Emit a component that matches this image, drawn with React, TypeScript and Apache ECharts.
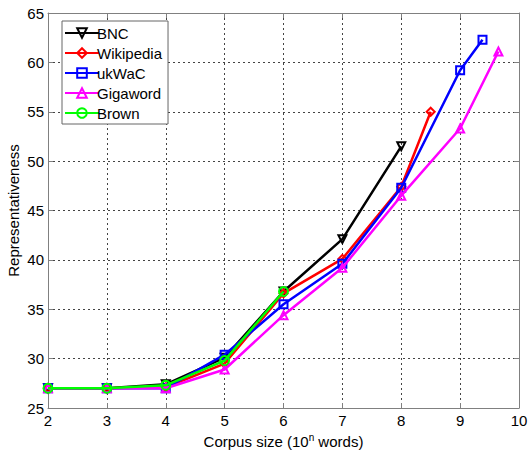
import React, { useEffect, useRef } from "react";
import * as echarts from "echarts";

const seriesNames = ["BNC", "Wikipedia", "ukWaC", "Gigaword", "Brown"];
const colors = ["#000000", "#ff0000", "#0000ff", "#ff00ff", "#00ff00"];
const symbols = ["triangle", "diamond", "rect", "triangle", "circle"];
const rotations = [180, 0, 0, 0, 0];

const bncX = [2, 3, 4, 5, 6, 7, 8];
const bncY = [27.0, 27.0, 27.4, 30.1, 36.8, 42.1, 51.5];
const wikiX = [2, 3, 4, 5, 6, 7, 8, 8.5];
const wikiY = [27.0, 27.0, 27.1, 29.5, 36.6, 40.1, 47.4, 55.0];
const ukwacX = [2, 3, 4, 5, 6, 7, 8, 9, 9.38];
const ukwacY = [27.0, 27.0, 27.0, 30.4, 35.5, 39.6, 47.3, 59.2, 62.3];
const gigaX = [2, 3, 4, 5, 6, 7, 8, 9, 9.65];
const gigaY = [27.0, 27.0, 27.0, 28.9, 34.4, 39.2, 46.5, 53.3, 61.1];
const brownX = [2, 3, 4, 5, 6];
const brownY = [27.0, 27.0, 27.3, 29.8, 36.8];

const xTicks = { min: 2, max: 10, interval: 1 };
const yTicks = { min: 25, max: 65, interval: 5 };

const allX = [bncX, wikiX, ukwacX, gigaX, brownX];
const allY = [bncY, wikiY, ukwacY, gigaY, brownY];

export default function App() {
  const ref = useRef<HTMLDivElement>(null);
  useEffect(() => {
    if (!ref.current) return;
    const chart = echarts.init(ref.current, undefined, { renderer: "svg" });
    const font = "'Liberation Sans', Arial, sans-serif";
    const frameColor = "#808080";
    const series = seriesNames.map((name, i) => ({
      name,
      type: "line",
      data: allX[i].map((x, j) => [x, allY[i][j]]),
      symbol: symbols[i],
      symbolRotate: rotations[i],
      symbolSize: i === 4 ? 9 : 8,
      showAllSymbol: true,
      color: colors[i],
      lineStyle: { width: 2.5, color: colors[i] },
      itemStyle: { color: "rgba(0,0,0,0)", borderColor: colors[i], borderWidth: 2 },
      z: 2 + i,
    }));
    chart.setOption({
      animation: false,
      backgroundColor: "#ffffff",
      textStyle: { fontFamily: font },
      grid: { left: 48, right: 12, top: 13, bottom: 47, containLabel: false, outerBoundsMode: "none" },
      legend: {
        orient: "vertical",
        left: 62,
        top: 21,
        data: seriesNames,
        backgroundColor: "#ffffff",
        borderColor: "#666",
        borderWidth: 1,
        padding: [4, 6, 3, 2],
        itemWidth: 34,
        itemHeight: 12,
        itemGap: 4,
        z: 20,
        textStyle: { fontSize: 15, lineHeight: 16, color: "#000", fontFamily: font, padding: [0, 0, 0, -7] },
      },
      xAxis: [
        {
          type: "value",
          ...xTicks,
          name: "Corpus size (10{sup|n} words)",
          nameLocation: "middle",
          nameGap: 23,
          nameTextStyle: {
            fontSize: 15,
            color: "#000",
            fontFamily: font,
            rich: { sup: { fontSize: 10, verticalAlign: "top", padding: [0, 0, 8, 0], fontFamily: font } },
          },
          axisLine: { show: true, lineStyle: { color: frameColor, width: 1 } },
          axisTick: { show: true, inside: true, length: 5, lineStyle: { color: frameColor } },
          axisLabel: { fontSize: 15, color: "#000", margin: 5, fontFamily: font },
          splitLine: { show: true, lineStyle: { color: "#444", type: [2, 3], width: 1 } },
        },
        {
          type: "value",
          ...xTicks,
          position: "top",
          axisLine: { show: true, lineStyle: { color: frameColor, width: 1 } },
          axisTick: { show: true, inside: true, length: 5, lineStyle: { color: frameColor } },
          axisLabel: { show: false },
          splitLine: { show: false },
        },
      ],
      yAxis: [
        {
          type: "value",
          ...yTicks,
          name: "Representativeness",
          nameLocation: "middle",
          nameGap: 27,
          nameMoveOverlap: false,
          nameTextStyle: { fontSize: 15, color: "#000", fontFamily: font },
          axisLine: { show: true, lineStyle: { color: frameColor, width: 1 } },
          axisTick: { show: true, inside: true, length: 5, lineStyle: { color: frameColor } },
          axisLabel: { fontSize: 15, color: "#000", margin: 4, fontFamily: font },
          splitLine: { show: true, lineStyle: { color: "#444", type: [2, 3], width: 1 } },
        },
        {
          type: "value",
          ...yTicks,
          position: "right",
          axisLine: { show: true, lineStyle: { color: frameColor, width: 1 } },
          axisTick: { show: true, inside: true, length: 5, lineStyle: { color: frameColor } },
          axisLabel: { show: false },
          splitLine: { show: false },
        },
      ],
      series,
    });
    return () => chart.dispose();
  }, []);
  return <div ref={ref} style={{ width: 531, height: 455, position: "absolute", left: 0, top: 0 }} />;
}
